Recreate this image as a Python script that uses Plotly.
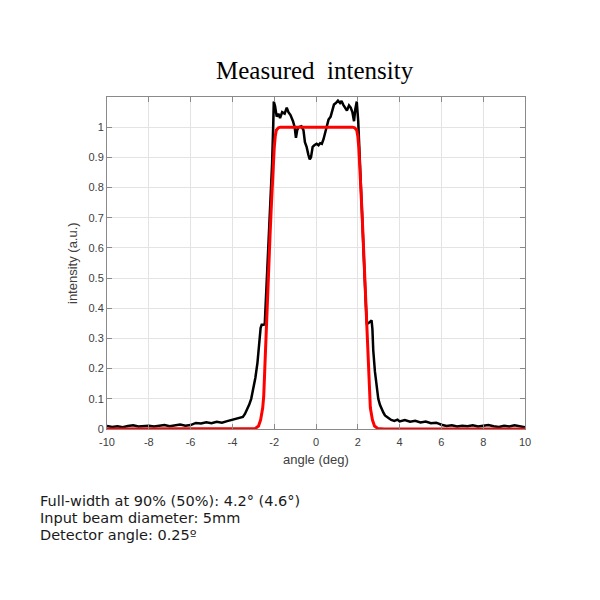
import plotly.graph_objects as go

# ---- data ----
measured_angle = [-10, -9.75, -9.5, -9.25, -9.0, -8.75, -8.5, -8.25, -8.0, -7.75, -7.5, -7.25,
                  -7.0, -6.75, -6.5, -6.25, -6.0, -5.75, -5.5, -5.25, -5.0, -4.75, -4.5, -4.25,
                  -4.0, -3.8, -3.6, -3.5, -3.4, -3.3, -3.2, -3.1, -3.0, -2.9, -2.8, -2.7, -2.65,
                  -2.6, -2.5, -2.45, -2.4, -2.3, -2.2, -2.1, -2.05, -2.02, -1.96, -1.88, -1.80,
                  -1.72, -1.62, -1.50, -1.40, -1.32, -1.22, -1.10, -1.02, -0.96, -0.90, -0.84,
                  -0.70, -0.60, -0.53, -0.45, -0.37, -0.30, -0.24, -0.16, -0.08, 0.03, 0.12,
                  0.20, 0.28, 0.36, 0.45, 0.52, 0.60, 0.70, 0.78, 0.86, 0.95, 1.05, 1.15, 1.22,
                  1.30, 1.38, 1.48, 1.58, 1.66, 1.74, 1.82, 1.88, 1.95, 2.02, 2.10, 2.20, 2.30,
                  2.38, 2.43, 2.50, 2.58, 2.66, 2.70, 2.74, 2.82, 2.90, 2.98, 3.06, 3.14, 3.22,
                  3.30, 3.38, 3.5, 3.6, 3.75, 3.9, 4.0, 4.25, 4.5, 4.75, 5.0, 5.25, 5.5, 5.75,
                  6.0, 6.25, 6.5, 6.75, 7.0, 7.25, 7.5, 7.75, 8.0, 8.25, 8.5, 8.75, 9.0, 9.25,
                  9.5, 9.75, 10.0]
measured_intensity = [0.010, 0.007, 0.009, 0.006, 0.010, 0.012, 0.008, 0.009, 0.011, 0.008, 0.010, 0.013,
                      0.009, 0.012, 0.015, 0.011, 0.013, 0.020, 0.018, 0.022, 0.019, 0.024, 0.021, 0.026,
                      0.030, 0.033, 0.036, 0.040, 0.050, 0.063, 0.080, 0.100, 0.130, 0.170, 0.220, 0.300, 0.335,
                      0.345, 0.345, 0.350, 0.420, 0.550, 0.700, 0.880, 1.000, 1.085, 1.070, 1.035, 1.045,
                      1.030, 1.050, 1.045, 1.065, 1.050, 1.040, 1.020, 1.000, 0.965, 0.990, 1.000,
                      1.003, 0.990, 0.950, 0.935, 0.910, 0.893, 0.900, 0.935, 0.940, 0.945, 0.940,
                      0.947, 0.945, 0.960, 0.985, 1.005, 1.025, 1.035, 1.060, 1.075, 1.080, 1.088, 1.080, 1.087,
                      1.075, 1.065, 1.055, 1.072, 1.065, 1.050, 1.020, 1.060, 1.085, 1.020, 0.900, 0.720, 0.550,
                      0.420, 0.350, 0.350, 0.355, 0.360, 0.330, 0.260, 0.190, 0.150, 0.100, 0.080, 0.065, 0.055,
                      0.045, 0.040, 0.035, 0.030, 0.027, 0.031, 0.025, 0.030, 0.024, 0.027, 0.022, 0.025, 0.019, 0.021,
                      0.014, 0.010, 0.012, 0.008, 0.011, 0.009, 0.012, 0.008, 0.010, 0.013, 0.009, 0.007, 0.011, 0.008,
                      0.012, 0.009, 0.006]

model_angle = [-10, -3.2, -2.9, -2.75, -2.65, -2.55, -2.5, -2.45, -2.4, -2.35, -2.3, -2.25, -2.2,
               -2.15, -2.1, -2.05, -2.0, -1.95, -1.9, -1.8, -1.7,
               1.75, 1.85, 1.95, 2.0, 2.05, 2.1, 2.15, 2.2, 2.25, 2.3, 2.35, 2.4, 2.45, 2.5, 2.55,
               2.6, 2.7, 2.8, 2.95, 3.25, 10]
model_intensity = [0, 0, 0.002, 0.01, 0.03, 0.07, 0.11, 0.2, 0.3, 0.4, 0.48, 0.56, 0.64,
                   0.72, 0.8, 0.87, 0.93, 0.97, 0.99, 0.998, 1.0,
                   1.0, 0.998, 0.99, 0.97, 0.93, 0.87, 0.8, 0.72, 0.64, 0.56, 0.48, 0.4, 0.3, 0.2, 0.11,
                   0.07, 0.03, 0.01, 0.002, 0, 0]

x_ticks = [-10, -8, -6, -4, -2, 0, 2, 4, 6, 8, 10]
x_tick_labels = ["-10", "-8", "-6", "-4", "-2", "0", "2", "4", "6", "8", "10"]
y_ticks = [0, 0.1, 0.2, 0.3, 0.4, 0.5, 0.6, 0.7, 0.8, 0.9, 1.0]
y_tick_labels = ["0", "0.1", "0.2", "0.3", "0.4", "0.5", "0.6", "0.7", "0.8", "0.9", "1"]

title_text = "Measured&nbsp; intensity"
notes = ["Full-width at 90% (50%): 4.2° (4.6°)",
         "Input beam diameter: 5mm",
         "Detector angle: 0.25º"]

fig = go.Figure()
fig.add_trace(go.Scatter(x=measured_angle, y=measured_intensity, mode="lines",
                         line=dict(color="black", width=2.5), showlegend=False))
fig.add_trace(go.Scatter(x=model_angle, y=model_intensity, mode="lines",
                         line=dict(color="#ff0000", width=3), showlegend=False))

axis_common = dict(showgrid=True, gridcolor="#e3e3e3", gridwidth=1, zeroline=False,
                   showline=True, linecolor="#8a8a8a", linewidth=1, mirror="ticks",
                   ticks="inside", ticklen=5, tickcolor="#8a8a8a",
                   tickfont=dict(family="Liberation Sans, Arial", size=11, color="#404040"))

fig.update_xaxes(range=[-10, 10], tickvals=x_ticks, ticktext=x_tick_labels,
                 ticklabelstandoff=3, **axis_common)
fig.update_yaxes(range=[0, 1.1], tickvals=y_ticks, ticktext=y_tick_labels, **axis_common)

fig.update_layout(
    width=600, height=600,
    margin=dict(l=107, r=75, t=97, b=171),
    paper_bgcolor="white", plot_bgcolor="white",
)
H = 600 - 97 - 171
W = 600 - 107 - 75
def px_x(p):
    return (p - 107) / W
def px_y(p):
    return (600 - 171 - p) / H

anns = [
    dict(text=title_text, x=px_x(315), y=px_y(70), xref="paper", yref="paper", showarrow=False,
         xanchor="center", yanchor="middle",
         font=dict(family="Liberation Serif, serif", size=25, color="black")),
    dict(text="angle (deg)", x=px_x(316), y=px_y(459), xref="paper", yref="paper", showarrow=False,
         xanchor="center", yanchor="middle",
         font=dict(family="Liberation Sans, Arial", size=13, color="#404040")),
    dict(text="intensity (a.u.)", x=px_x(72), y=px_y(263), xref="paper", yref="paper", showarrow=False,
         xanchor="center", yanchor="middle", textangle=-90,
         font=dict(family="Liberation Sans, Arial", size=13, color="#404040")),
]
for i, line in enumerate(notes):
    anns.append(dict(text=line, x=px_x(39), y=px_y(500.5 + 17 * i), xref="paper", yref="paper",
                     showarrow=False, xanchor="left", yanchor="middle", borderpad=0,
                     font=dict(family="DejaVu Sans, Verdana", size=14.5, color="#1a1a1a")))
fig.update_layout(annotations=anns)

fig.write_html("out.html", config={"displayModeBar": False},
               post_script="document.body.style.margin='0';")
